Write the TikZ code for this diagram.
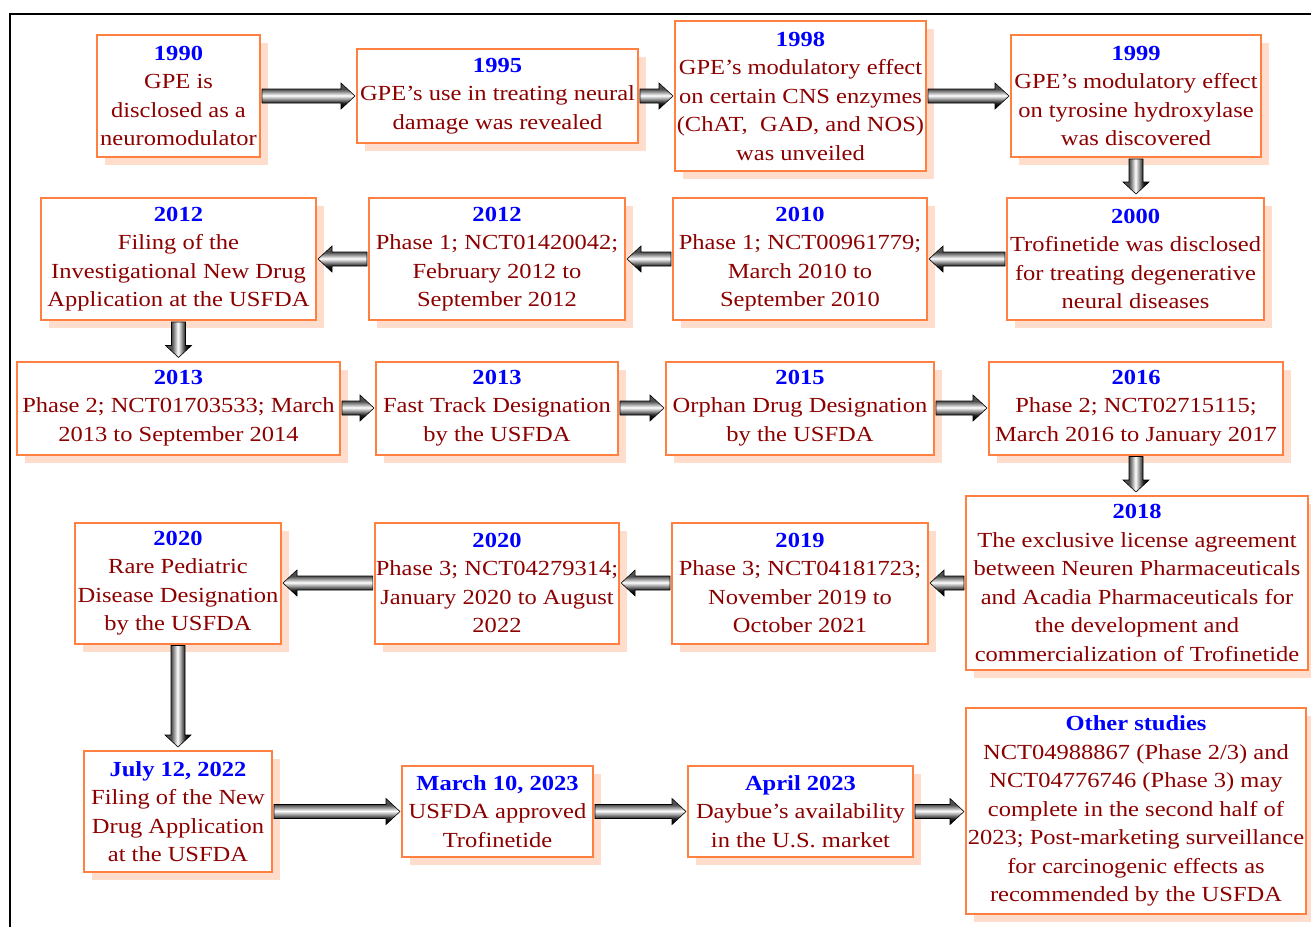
\documentclass[tikz,border=0pt]{standalone}
\usepackage{fontspec}
\setmainfont{Liberation Serif}[FakeStretch=1.14]
\usetikzlibrary{calc,shadows}

\definecolor{boxorange}{RGB}{255,128,64}
\definecolor{shadowpeach}{RGB}{255,221,204}
\definecolor{textred}{RGB}{140,0,0}
\definecolor{yearblue}{RGB}{0,0,255}

\newcommand{\yr}[1]{{\bfseries\color{yearblue}#1}}

\pgfdeclareverticalshading{arrowshade}{100bp}{color(0bp)=(black);
  color(30bp)=(black); color(37bp)=(black!85); color(45bp)=(gray!70);
  color(51bp)=(white); color(56bp)=(gray!60); color(63bp)=(black!70); color(100bp)=(black!60)}

\tikzset{
  evtbox/.style={draw=boxorange, line width=2pt, fill=white, align=center,
    text=textred, font=\fontsize{21.5}{28.5}\selectfont, inner sep=1pt,
    drop shadow={shadow xshift=8pt, shadow yshift=-8pt, fill=shadowpeach, opacity=1}},
  harrowfill/.style={draw=black, line width=0.6pt, shading=arrowshade},
  varrowfill/.style={draw=black, line width=0.6pt, shading=arrowshade, shading angle=90},
}

% block arrows between two named boxes
\newcommand{\rarrow}[2]{%
  \path[harrowfill] let \p1=(#1.east), \p2=(#2.west) in
    (\x1+1pt,\y1+7pt) -- (\x2-15pt,\y1+7pt) -- (\x2-15pt,\y1+13pt) -- (\x2-1pt,\y1)
    -- (\x2-15pt,\y1-13pt) -- (\x2-15pt,\y1-7pt) -- (\x1+1pt,\y1-7pt) -- cycle;}
\newcommand{\larrow}[2]{%
  \path[harrowfill] let \p1=(#1.west), \p2=(#2.east) in
    (\x1-1pt,\y1+7pt) -- (\x2+15pt,\y1+7pt) -- (\x2+15pt,\y1+13pt) -- (\x2+1pt,\y1)
    -- (\x2+15pt,\y1-13pt) -- (\x2+15pt,\y1-7pt) -- (\x1-1pt,\y1-7pt) -- cycle;}
\newcommand{\darrow}[2]{%
  \path[varrowfill] let \p1=(#1.south), \p2=(#2.north) in
    (\x1-7pt,\y1-1pt) -- (\x1-7pt,\y2+15pt) -- (\x1-13pt,\y2+15pt) -- (\x1,\y2+3pt)
    -- (\x1+13pt,\y2+15pt) -- (\x1+7pt,\y2+15pt) -- (\x1+7pt,\y1-1pt) -- cycle;}

\begin{document}
\begin{tikzpicture}[x=1pt,y=-1pt]
\useasboundingbox (0,0) rectangle (1311,927);
\draw[line width=2pt] (10,927) -- (10,14) -- (1311,14);

% row 1
\node[evtbox, minimum width=163pt, minimum height=122pt] (b1990) at (178.5,96) {\yr{1990}\\GPE is\\disclosed as a\\neuromodulator};
\node[evtbox, minimum width=281pt, minimum height=94pt] (b1995) at (497.5,96) {\yr{1995}\\GPE’s use in treating neural\\damage was revealed};
\node[evtbox, minimum width=251pt, minimum height=150pt] (b1998) at (800.5,96) {\yr{1998}\\GPE’s modulatory effect\\on certain CNS enzymes\\(ChAT,\ \ GAD, and NOS)\\was unveiled};
\node[evtbox, minimum width=250pt, minimum height=122pt] (b1999) at (1136,96) {\yr{1999}\\GPE’s modulatory effect\\on tyrosine hydroxylase\\was discovered};

% row 2
\node[evtbox, minimum width=257pt, minimum height=122pt] (b2000) at (1135.5,259) {\yr{2000}\\Trofinetide was disclosed\\for treating degenerative\\neural diseases};
\node[evtbox, minimum width=254pt, minimum height=122pt] (b2010) at (800,259) {\yr{2010}\\Phase 1; NCT00961779;\\March 2010 to\\September 2010};
\node[evtbox, minimum width=256pt, minimum height=122pt] (b2012a) at (497,259) {\yr{2012}\\Phase 1; NCT01420042;\\February 2012 to\\September 2012};
\node[evtbox, minimum width=275pt, minimum height=122pt] (b2012b) at (178.5,259) {\yr{2012}\\Filing of the\\Investigational New Drug\\Application at the USFDA};

% row 3
\node[evtbox, minimum width=323pt, minimum height=93pt] (b2013a) at (178.5,408) {\yr{2013}\\Phase 2; NCT01703533; March\\2013 to September 2014};
\node[evtbox, minimum width=242pt, minimum height=93pt] (b2013b) at (497,408) {\yr{2013}\\Fast Track Designation\\by the USFDA};
\node[evtbox, minimum width=268pt, minimum height=93pt] (b2015) at (800,408) {\yr{2015}\\Orphan Drug Designation\\by the USFDA};
\node[evtbox, minimum width=294pt, minimum height=93pt] (b2016) at (1136,408) {\yr{2016}\\Phase 2; NCT02715115;\\March 2016 to January 2017};

% row 4
\node[evtbox, minimum width=342pt, minimum height=174pt] (b2018) at (1137,583) {\yr{2018}\\The exclusive license agreement\\between Neuren Pharmaceuticals\\and Acadia Pharmaceuticals for\\the development and\\commercialization of Trofinetide};
\node[evtbox, minimum width=256pt, minimum height=121pt] (b2019) at (800,583) {\yr{2019}\\Phase 3; NCT04181723;\\November 2019 to\\October 2021};
\node[evtbox, minimum width=242pt, minimum height=121pt] (b2020a) at (497,583) {\yr{2020}\\Phase 3; NCT04279314;\\January 2020 to August\\2022};
\node[evtbox, minimum width=206pt, minimum height=121pt] (b2020b) at (178,583) {\yr{2020}\\Rare Pediatric\\Disease Designation\\by the USFDA};

% row 5
\node[evtbox, minimum width=188pt, minimum height=121pt] (b2022) at (178,811.5) {\yr{July 12, 2022}\\Filing of the New\\Drug Application\\at the USFDA};
\node[evtbox, minimum width=191pt, minimum height=91pt] (b2023a) at (497.5,811.5) {\yr{March 10, 2023}\\USFDA approved\\Trofinetide};
\node[evtbox, minimum width=225pt, minimum height=91pt] (b2023b) at (800.5,811.5) {\yr{April 2023}\\Daybue’s availability\\in the U.S. market};
\node[evtbox, minimum width=340pt, minimum height=206pt] (bother) at (1136,811) {\yr{Other studies}\\NCT04988867 (Phase 2/3) and\\NCT04776746 (Phase 3) may\\complete in the second half of\\2023; Post-marketing surveillance\\for carcinogenic effects as\\recommended by the USFDA};

% arrows
\rarrow{b1990}{b1995}
\rarrow{b1995}{b1998}
\rarrow{b1998}{b1999}
\darrow{b1999}{b2000}
\larrow{b2000}{b2010}
\larrow{b2010}{b2012a}
\larrow{b2012a}{b2012b}
\darrow{b2012b}{b2013a}
\rarrow{b2013a}{b2013b}
\rarrow{b2013b}{b2015}
\rarrow{b2015}{b2016}
\darrow{b2016}{b2018}
\larrow{b2018}{b2019}
\larrow{b2019}{b2020a}
\larrow{b2020a}{b2020b}
\darrow{b2020b}{b2022}
\rarrow{b2022}{b2023a}
\rarrow{b2023a}{b2023b}
\rarrow{b2023b}{bother}
\end{tikzpicture}
\end{document}
